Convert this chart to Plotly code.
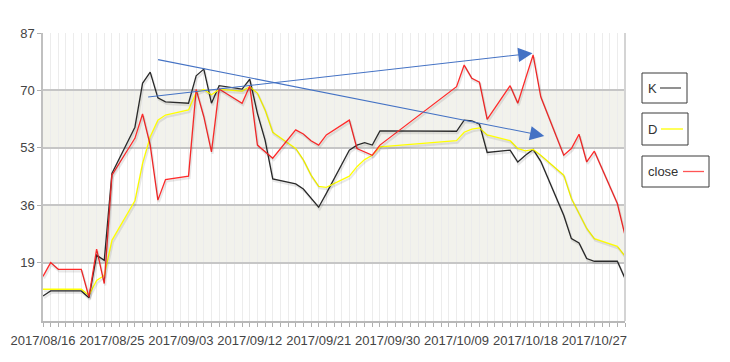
import plotly.graph_objects as go
import pandas as pd

dates = ["2017-08-16", "2017-08-17", "2017-08-18", "2017-08-21", "2017-08-22", "2017-08-23",
         "2017-08-24", "2017-08-25", "2017-08-28", "2017-08-29", "2017-08-30", "2017-08-31",
         "2017-09-01", "2017-09-04", "2017-09-05", "2017-09-06", "2017-09-07", "2017-09-08",
         "2017-09-11", "2017-09-12", "2017-09-13", "2017-09-14", "2017-09-15", "2017-09-18",
         "2017-09-19", "2017-09-20", "2017-09-21", "2017-09-22", "2017-09-25", "2017-09-26",
         "2017-09-27", "2017-09-28", "2017-09-29", "2017-10-09", "2017-10-10", "2017-10-11",
         "2017-10-12", "2017-10-13", "2017-10-16", "2017-10-17", "2017-10-18", "2017-10-19",
         "2017-10-20", "2017-10-23", "2017-10-24", "2017-10-25", "2017-10-26", "2017-10-27",
         "2017-10-30", "2017-10-31"]

k_values = [9.1, 10.6, 10.6, 10.6, 8.6, 21.2, 19.7, 45.4, 59.1, 72.1, 75.4, 67.8, 66.6, 66.2,
            74.3, 76.3, 66.2, 71.4, 70.4, 73.3, 63.2, 55.3, 43.8, 42.3, 40.8, 38.2, 35.4, 39.5,
            52.3, 53.8, 54.5, 53.8, 58.0, 57.9, 61.2, 61.0, 60.0, 51.6, 52.3, 48.8, 50.8, 52.5,
            49.0, 33.0, 26.1, 24.8, 20.2, 19.4, 19.4, 14.3]

d_values = [11.1, 11.1, 11.1, 11.1, 9.3, 13.7, 15.2, 25.6, 37.3, 48.4, 56.3, 61.2, 62.7, 64.2,
            69.4, 70.3, 68.7, 70.3, 69.8, 71.1, 69.2, 64.2, 57.6, 52.8, 49.4, 44.9, 41.6, 41.3,
            44.6, 47.4, 49.5, 50.8, 53.3, 55.1, 57.6, 58.5, 58.9, 56.8, 55.1, 52.8, 52.1, 52.5,
            50.8, 44.9, 38.0, 33.5, 29.1, 26.1, 23.8, 20.9]

close_values = [14.9, 19.0, 17.0, 17.0, 8.8, 23.0, 12.8, 44.9, 55.8, 63.0, 53.8, 37.5, 43.6, 44.6,
                70.3, 62.2, 51.8, 70.4, 66.2, 71.3, 53.8, 51.9, 49.9, 58.3, 57.1, 55.1, 53.8, 56.8,
                61.2, 52.8, 51.9, 50.8, 53.8, 71.1, 77.5, 73.6, 72.4, 61.4, 71.4, 66.2, 73.4, 80.5,
                68.1, 50.8, 52.8, 57.0, 48.8, 52.0, 36.5, 27.1]

y_ticks = [19, 36, 53, 70, 87]
bands = [(19, 36), (53, 70)]

# trend arrows (start date, start value, end date, end value)
arrow_rising = ("2017-08-29 12:45", 68.0, "2017-10-18 22:00", 81.0)
arrow_falling = ("2017-08-30 20:00", 79.2, "2017-10-20 11:00", 56.5)

x_start, x_end = pd.Timestamp("2017-08-16"), pd.Timestamp("2017-10-31")
y_min, y_max = 1.7, 87

series = [("K", k_values, "#2b2b2b"), ("D", d_values, "#ffff00"), ("close", close_values, "#ff2b2b")]

fig = go.Figure()

# soft drop shadows drawn on a slightly shifted overlay axis
px_per_day = 582 / (x_end - x_start).days
shift_x = pd.Timedelta(hours=24 * 1.0 / px_per_day)
shift_y = 2.0 * (y_max - y_min) / 288
for name, vals, col in series:
    fig.add_trace(go.Scatter(x=dates, y=vals, mode="lines", xaxis="x2", yaxis="y2",
                             line=dict(color="rgba(0,0,0,0.09)", width=2.2),
                             hoverinfo="skip", showlegend=False))

for name, vals, col in series:
    fig.add_trace(go.Scatter(x=dates, y=vals, mode="lines", name=name,
                             line=dict(color=col, width=1.3), showlegend=False))

shapes = []
for lo, hi in bands:
    shapes.append(dict(type="rect", xref="paper", yref="y", x0=0, x1=1, y0=lo, y1=hi,
                       fillcolor="#f2f2ec", line=dict(width=0), layer="below"))
shapes.append(dict(type="line", xref="paper", yref="paper", x0=1, x1=1, y0=0, y1=1,
                   line=dict(color="#d4d4d4", width=2)))

annotations = []
for (x0, y0, x1, y1) in (arrow_rising, arrow_falling):
    annotations.append(dict(x=x1, y=y1, ax=x0, ay=y0, xref="x", yref="y", axref="x", ayref="y",
                            showarrow=True, arrowhead=2, arrowsize=2.6, arrowwidth=1.1,
                            arrowcolor="#4472c4", standoff=0, text=""))


# manual legend boxes (text then line sample), positioned in pixels
def px_x(p):
    return (p - 43) / 582


def px_y(p):
    return (321 - p) / 288


legend_items = [
    ("K", "#555555", (642, 687, 73, 103), 652, (660, 681)),
    ("D", "#ffff00", (642, 688, 113, 145), 652, (661, 683)),
    ("close", "#ff5555", (642, 709, 156, 187), 662.5, (683, 704)),
]
for text, col, (bx0, bx1, by0, by1), tx, (lx0, lx1) in legend_items:
    cy = (by0 + by1) / 2
    shapes.append(dict(type="rect", xref="paper", yref="paper",
                       x0=px_x(bx0), x1=px_x(bx1), y0=px_y(by1), y1=px_y(by0),
                       line=dict(color="#3a3a3a", width=1), fillcolor="white"))
    shapes.append(dict(type="line", xref="paper", yref="paper",
                       x0=px_x(lx0), x1=px_x(lx1), y0=px_y(cy), y1=px_y(cy),
                       line=dict(color=col, width=1.3)))
    annotations.append(dict(x=px_x(tx), y=px_y(cy), xref="paper", yref="paper", text=text,
                            showarrow=False, xanchor="center", yanchor="middle",
                            font=dict(size=13, color="#333333")))

fig.update_layout(
    width=730, height=362,
    margin=dict(l=43, r=105, t=33, b=41),
    paper_bgcolor="white", plot_bgcolor="white",
    font=dict(family="Liberation Sans, Arial, sans-serif", size=13, color="#444444"),
    showlegend=False,
    shapes=shapes, annotations=annotations,
    xaxis=dict(type="date", range=[x_start, x_end], tick0="2017-08-16", dtick=9 * 86400000,
               tickformat="%Y/%m/%d", showgrid=True, gridcolor="#ececec", gridwidth=1,
               ticks="outside", ticklen=4, tickcolor="#b0b0b0", ticklabelstandoff=3,
               showline=True, linecolor="#b8b8b8", linewidth=1.5, zeroline=False,
               automargin=False,
               minor=dict(dtick=86400000, showgrid=True, gridcolor="#ececec", gridwidth=1,
                          ticks="outside", ticklen=4, tickcolor="#b0b0b0")),
    yaxis=dict(range=[y_min, y_max], tickvals=y_ticks, showgrid=True, gridcolor="#c6c6c6",
               gridwidth=1.6, ticks="outside", ticklen=4, tickcolor="#b0b0b0",
               showline=True, linecolor="#c0c0c0", linewidth=1.5, zeroline=False,
               automargin=False),
    xaxis2=dict(type="date", overlaying="x", range=[x_start - shift_x, x_end - shift_x],
                visible=False),
    yaxis2=dict(overlaying="y", range=[y_min + shift_y, y_max + shift_y], visible=False),
)

fig.write_html("out.html", config={"displayModeBar": False},
               post_script="document.body.style.margin='0px';")
